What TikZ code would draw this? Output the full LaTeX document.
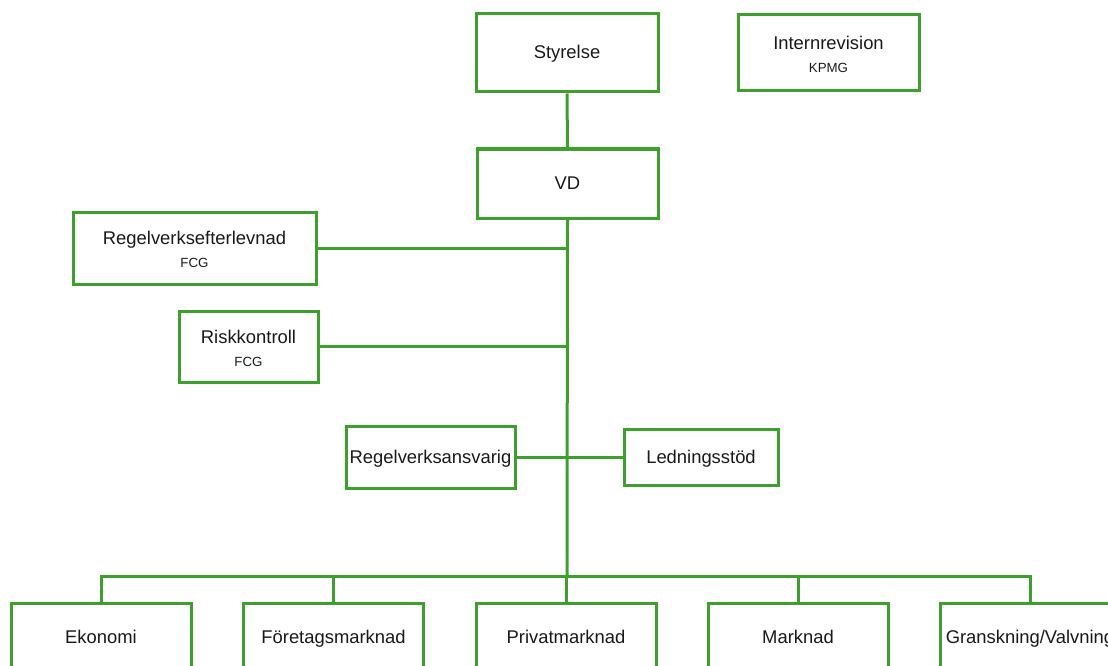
\documentclass[tikz,border=0pt]{standalone}
\usepackage{fontspec}
\setmainfont{Liberation Sans}
\definecolor{orggreen}{RGB}{62,160,44}
\tikzset{
  orgbox/.style={draw=orggreen, line width=3pt, rectangle, inner sep=0pt, align=center,
    font=\fontsize{18.4}{24}\selectfont, text=black!90},
  onebox/.style={orgbox, text height=12pt, text depth=0pt},
  orgline/.style={draw=orggreen, line width=3pt},
}
\newcommand{\subtxt}[1]{{\fontsize{13.3}{16}\selectfont #1}}
\newcommand{\topstrut}{\rule{0pt}{16.5pt}}
\begin{document}
\begin{tikzpicture}[x=1pt,y=-1pt]
\useasboundingbox (0,0) rectangle (1108,666);
\node[onebox, minimum width=182, minimum height=78] (sty) at (567,53) {Styrelse};
\node[orgbox, minimum width=181, minimum height=76] (int) at (828.5,53) {\topstrut Internrevision\\[-1pt]\subtxt{KPMG}};
\node[onebox, minimum width=181, minimum height=69] (vd) at (567.5,183.5) {VD};
\node[orgbox, minimum width=243, minimum height=72] (ref) at (194.5,248) {\topstrut Regelverksefterlevnad\\[-1pt]\subtxt{FCG}};
\node[orgbox, minimum width=139, minimum height=71] (risk) at (248.5,346.5) {\topstrut Riskkontroll\\[-1pt]\subtxt{FCG}};
\node[onebox, minimum width=169, minimum height=62] (rans) at (430.5,457) {Regelverksansvarig};
\node[onebox, minimum width=154, minimum height=56] (led) at (701,457) {Ledningsstöd};
\node[onebox, minimum width=180, minimum height=68] (eko) at (101,637) {Ekonomi};
\node[onebox, minimum width=180, minimum height=68] (ftg) at (333.5,637) {Företagsmarknad};
\node[onebox, minimum width=180, minimum height=68] (priv) at (566,637) {Privatmarknad};
\node[onebox, minimum width=180, minimum height=68] (mark) at (798,637) {Marknad};
\node[onebox, minimum width=180, minimum height=68] (gran) at (1030,637) {Granskning/Valvning};
\coordinate (bus) at (567,576);
\draw[orgline] (sty.south) -- (vd.north);
\draw[orgline] (vd.south) -- (bus);
\draw[orgline] (ref.east) -- (ref.east -| bus);
\draw[orgline] (risk.east) -- (risk.east -| bus);
\draw[orgline] (rans.east) -- (led.west);
\draw[orgline] (eko.north) |- (bus) -| (gran.north);
\draw[orgline] (ftg.north) -- (ftg.north |- bus);
\draw[orgline] (priv.north) -- (priv.north |- bus);
\draw[orgline] (mark.north) -- (mark.north |- bus);
\end{tikzpicture}
\end{document}
